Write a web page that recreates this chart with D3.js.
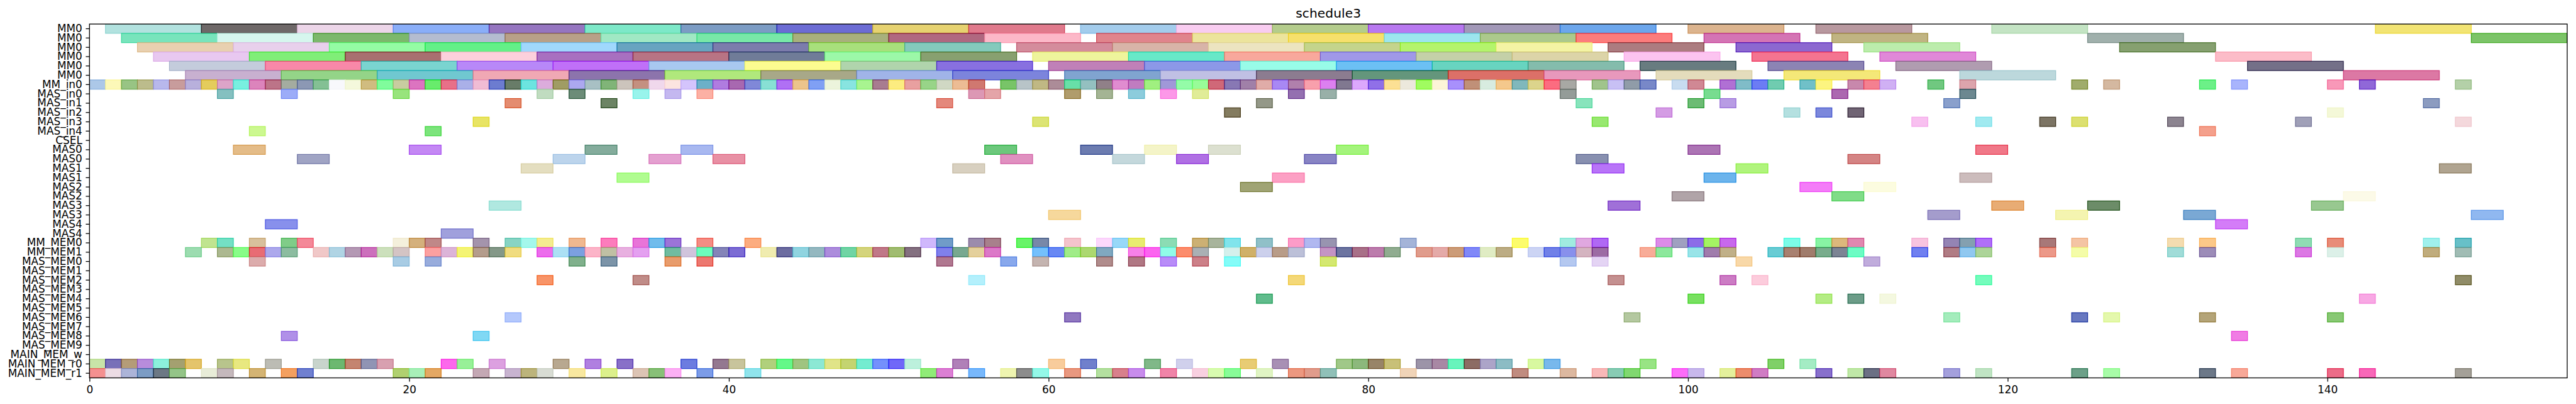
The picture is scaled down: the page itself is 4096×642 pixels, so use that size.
<!DOCTYPE html>
<html><head><meta charset="utf-8">
<script src="https://cdn.jsdelivr.net/npm/d3@7"></script>
<style>html,body{margin:0;padding:0;background:#fff;overflow:hidden}</style>
</head><body>
<svg id="chart" width="4096" height="642"></svg>
<script>
// ---------------- DATA ----------------
const title = "schedule3";
const categories = ["MM0","MM0","MM0","MM0","MM0","MM0","MM_in0",
  "MAS_in0","MAS_in1","MAS_in2","MAS_in3","MAS_in4","CSEL",
  "MAS0","MAS0","MAS1","MAS1","MAS2","MAS2","MAS3","MAS3","MAS4","MAS4",
  "MM_MEM0","MM_MEM1",
  "MAS_MEM0","MAS_MEM1","MAS_MEM2","MAS_MEM3","MAS_MEM4","MAS_MEM5","MAS_MEM6","MAS_MEM7","MAS_MEM8","MAS_MEM9",
  "MAIN_MEM_w","MAIN_MEM_r0","MAIN_MEM_r1"];
const xTicks = [0,20,40,60,80,100,120,140];
const xMax = 155;
const durations = {mm0:6, mmIn:1, masIn:1, csel:1, mas:2, mmMem:1, masMem:1, mainMem:1};

const mm0Starts = [
 [1,7,13,19,25,31,37,43,49,55,62,68,74,80,86,92,100,108,119,143],
 [2,8,14,20,26,32,38,44,50,56,63,69,75,81,87,93,101,109,125,149],
 [3,9,15,21,27,33,39,45,51,58,64,70,76,82,88,95,103,111,127],
 [4,10,16,22,28,34,40,46,52,59,65,71,77,83,89,96,104,112,133],
 [5,11,17,23,29,35,41,47,53,60,66,72,78,84,90,97,105,113,135],
 [6,12,18,24,30,36,42,48,54,61,67,73,79,85,91,98,106,117,141]
];
const mm0Colors = [
 ["#b2e2df","#6e6868","#ecd5e8","#8aaef8","#9575c0","#7de8c8","#7c9cc4","#6c6cd4","#e6d270","#e07a8c","#a3ccec","#f8ccf0","#b4cc8c","#b878f0","#a298b8","#6ca6ec","#dcb48e","#b8989f","#c4e4c4","#f2e474"],
 ["#78e4bc","#d6f6ee","#7cb86c","#b4bcd0","#b8a088","#a0e8c4","#78e8a8","#a8b07c","#b06880","#fcb8c8","#e0848c","#ece49c","#f6e06c","#9ce6ee","#acc98c","#fc7c7c","#d474b4","#c0b482","#a0b0ac","#7cc468"],
 ["#e8d0b0","#e8d0ec","#94fca4","#64f088","#a0d8fc","#68a4c0","#7c7cac","#a8e07c","#84cabc","#d48c9c","#d8b4a8","#ece4c0","#c4d48c","#b4f46c","#f4f4a4","#ac7c80","#8c68d0","#bcecac","#86a070"],
 ["#e8c8f0","#80ee78","#a87070","#fcd0dc","#a870c0","#b87484","#707c98","#9cf8a8","#88a070","#eef49c","#68e8c8","#f8a89c","#a098e8","#c4d0a8","#dcd4a8","#fcc4f0","#f47490","#e088d8","#fcbcc8"],
 ["#c4ccdc","#f888a8","#7ad4d0","#b888f8","#c070f8","#a8c8f0","#fcfc90","#b0d4ac","#8870e0","#c080b8","#8c98e8","#98fce8","#6cc0f4","#68d4c0","#84bcac","#687c80","#8c84b4","#b09cb0","#747088"],
 ["#c8b0d0","#94d488","#70c8d0","#f0a8b4","#8c74ac","#b0e87c","#a8a888","#a0b4e8","#7c84dc","#80a4d0","#c0c0e4","#8c7c90","#64967c","#dc7068","#e898bc","#e4dcbc","#f4e878","#bcd8dc","#dc78a4"]
];

const mmInStarts = [0,1,2,3,4,5,6,7,8,9,
 10,11,12,13,14,15,16,17,18,19,
 20,21,22,23,24,25,26,27,28,29,
 30,31,32,33,34,35,36,37,38,39,
 40,41,42,43,44,45,46,47,48,49,
 50,51,52,53,54,55,57,58,59,60,
 61,62,63,64,65,66,67,68,69,70,
 71,72,73,74,75,76,77,78,79,80,
 81,82,83,84,85,86,87,88,89,90,
 91,92,94,95,96,97,99,100,102,103,
 104,105,107,108,110,111,112,115,117,124,
 126,132,134,140,142,148];
const mmInColors = ["#acc8e8","#fcf8b8","#98c484","#bcbc8c","#b8b8ec","#c89c9c","#b8b0dc","#e4cc5c","#dca4c8","#78f0e0",
 "#dc84bc","#bc7488","#a4aca0","#8c98b4","#84c094","#f8f8fc","#f4f8dc","#d0bc80","#80fc9c","#c8cca0",
 "#dc74c0","#68ec6c","#e87088","#aab0e8","#f0bcd4","#6c7cd0","#687c68","#6ce4e0","#dcacdc","#a09c64",
 "#aca8f0","#a8c0c4","#80b478","#ccc4bc","#c49080","#f0d8ec","#fce4e0","#d4c4fc","#6cb0c8","#b07ce0",
 "#a868b0","#8088d8","#88e0d4","#b070f4","#ecc48c","#80a0f4","#ecf4dc","#88e4e0","#a8f490","#a87c90",
 "#fcec80","#e8a0a0","#98d488","#d0d8c4","#ecbc94","#d07870","#78c468","#b8c4c8","#c0b884","#ac8c98",
 "#68e0a8","#94c0c0","#908088","#e08cd0","#c07cc0","#a0f080","#a098d8","#94fca8","#98fc98","#d06878",
 "#8878b4","#a080a8","#e0aca8","#a888f4","#b080ac","#f8a0ac","#dc80f0","#807890","#dca8fc","#9070e8",
 "#fce094","#ece8dc","#a0fc60","#fcf4d8","#a890fc","#c09078","#d8ece0","#f4c88c","#80b8bc","#dcd48c",
 "#fc6c80","#a8a8a4","#a0c48c","#c8c0f4","#909ca8","#7888c8","#c8dcf0","#d08894","#b070d4","#80bcc8",
 "#6c7cf4","#70ccb0","#70c0c8","#fcf480","#c888ac","#f48090","#d0b0f4","#70c880","#dca4ac","#a0ac6c",
 "#d4b8a0","#6cf088","#a8b4fc","#f898b8","#9068d8","#b4d0a8"];

const masInStarts = [
 [8,12,19,28,30,34,36,38,55,56,61,63,65,67,69,75,77,92,101,109,117],
 [26,32,53,73,93,100,102,116,146],
 [71,98,106,108,110,140],
 [24,59,94,114,118,122,124,130,138,148],
 [10,21,132]
];
const masInColors = [
 ["#84c0c0","#9cacf8","#98e47c","#c0dcc0","#6c8c78","#98f4ec","#c4b8f0","#fcb0a4","#dc98b4","#e4a4a8","#b09c6c","#a4b494","#8cccdc","#fc98e8","#e0ec98","#9470b0","#98b0a8","#949c98","#78dc90","#ac68b0","#6c8890"],
 ["#e48c70","#6c8464","#e4887c","#949888","#88e4bc","#6cbc74","#b89ce4","#8aa0cc","#8c9cc0"],
 ["#847c60","#d49ce4","#b4e0e0","#7c88dc","#706474","#f4f8d8"],
 ["#e8e464","#dce474","#98e870","#f8c0f0","#a0eaf0","#7c7464","#dce070","#8c8490","#a0a0b8","#f4d8dc"],
 ["#ccf890","#7ce47c","#f4a08c"]
];

const cselStarts = [];
const cselColors = [];

const masStarts = [
 [9,20,31,37,56,62,66,70,78,100,118],
 [13,29,35,39,57,64,68,76,93,110],
 [27,54,94,103,147],
 [33,74,101,117],
 [72,107,111],
 [99,109,141],
 [25,95,119,125,139],
 [60,115,123,131,149],
 [11,133],
 [22]
];
const masColors = [
 ["#e4bc88","#c488f4","#84ac9c","#a8b8f0","#6cc87c","#6c7cb0","#f4f4c8","#dce0d0","#a4f47c","#ac74b4","#f07888"],
 ["#a0a4c4","#bcd4ec","#e4a0d0","#e890a4","#e090c0","#c4d8dc","#b070e4","#8884c4","#8890b0","#d48484"],
 ["#e4dec0","#d8d0c0","#b874f8","#b0f47c","#b0a490"],
 ["#b0fc90","#fca0c4","#6cb4ec","#ccbcbc"],
 ["#a0a474","#f47cf8","#fcfce0"],
 ["#b0a4a8","#80dc88","#fcfae8"],
 ["#b0e8e0","#a070d8","#e8ac74","#6c8c68","#98c890"],
 ["#f6d89c","#a49ccc","#f4f4b0","#7aa8d4","#90b8f0"],
 ["#8890ec","#d47cf8"],
 ["#a0a0dc"]
];

const mmMemStarts = [
 [7,8,10,12,13,19,20,21,
  24,26,27,28,30,32,34,35,36,38,41,
  52,53,55,56,58,59,61,63,64,65,
  67,69,70,71,73,75,76,77,82,
  89,92,93,94,98,99,100,101,102,106,108,109,
  110,114,116,117,118,122,124,130,
  132,138,140,146,148],
 [6,8,9,10,11,12,14,15,16,17,18,19,21,
  22,23,24,25,26,28,29,30,31,32,33,34,36,37,38,39,40,42,43,
  44,45,46,47,48,49,50,51,53,54,55,56,59,60,61,62,63,65,
  66,67,68,69,71,72,73,74,75,77,78,79,80,81,83,84,85,86,87,
  88,90,91,92,93,94,97,98,100,101,102,105,106,107,108,109,
  110,114,116,117,118,122,124,130,
  132,138,140,146,148]
];
const mmMemColors = [
 ["#c0e490","#74e0c4","#d8c09c","#80cc88","#f48898","#f4f0dc","#d4b07c","#c08888",
  "#a494ac","#88d4c4","#a4f8ec","#f4ec90","#f0b890","#fc7cbc","#e874d8","#70bcec","#9c74d8","#f48c84","#fcac80",
  "#d0b8fc","#709cc8","#9c8cac","#a8808c","#68f468","#7888a8","#f4c4cc","#fcd8fc","#98d8f8","#e8ec70",
  "#8cdcb4","#ccb074","#a8b49c","#80e4ec","#90c0c8","#fc9cc8","#b0b8f0","#9894b0","#a4b4d8",
  "#fcfc6c","#a0ece0","#e0a8e0","#b068f4","#dc8ce8","#a0a0c0","#8c6ce8","#a4f464","#c868ec","#7cfce8","#88f4a4","#dcb87c",
  "#e088b0","#f8c4e0","#9484b4","#84a0b0","#b070f8","#a87878","#f4c4a4","#f4dcb0",
  "#fcc888","#90dcb4","#e88c78","#a0f0ec","#68c0c8"],
 ["#9cdcb0","#acb890","#88fc88","#e86c74","#aca8ec","#8cbca0","#f0c8c8","#b0d4e4","#b498b4","#cc70bc","#cce0bc","#d4c4c4","#fca0a0",
  "#dcb4d8","#f4f474","#b49c8c","#849888","#f0dc80","#ec6cec","#ace0f4","#7ca0e0","#fcb4c8","#c0c0a4","#e8b0e0","#e4a0f0","#70bca0","#d0c4dc","#6cfcbc","#8484b8","#7c6cd4","#f0ecb0","#6c6ca0",
  "#90d4e0","#94b8c0","#ac8cdc","#70d4a4","#d4d47c","#c07888","#a0bc70","#847080","#8080ec","#78a890","#e4d09c","#dc78c8","#74c0fc","#6888f4","#a0ec88","#acd870","#80a8c0","#f880e8",
  "#fc64f0","#90fce8","#fc8c6c","#aab0b4","#d4f0ec","#d0b068","#ccd0ec","#b89c88","#bcc0d8","#c494c4","#6c74a0","#a87088","#bc7cac","#90ac90","#e09c8c","#e4aaa8","#cc9c78","#8088f8","#e0ecc4",
  "#bcac84","#ccd4f4","#7080e8","#8890ec","#d4b4c0","#9c6ca4","#f8ac98","#8ce89c","#98e4e8","#a07cac","#c0b088","#68ccd4","#a88070","#a07c6c","#78ac8c","#7c8494",
  "#6cfcc4","#7080f0","#b07c84","#90c8f0","#acd498","#ec9888","#f4fca8","#a0dcd8",
  "#9c8cb8","#dc78e4","#dcf0e8","#c0ac7c","#a0bcb4"]
];

const masMemStarts = [
 [10,19,21,30,32,36,38,53,57,59,63,65,67,69,71,77,92,94,103,111],
 [],
 [28,34,55,75,95,102,104,118,148],
 [],
 [73,100,108,110,112,142],
 [],
 [26,61,96,116,124,126,132,140],
 [],
 [12,24,134],
 []
];
const masMemColors = [
 ["#dcacac","#a8cce4","#98acdc","#80b08c","#7c94a8","#e89c6c","#ec7870","#b07890","#88a8ec","#c4b4b0","#b08c8c","#b07884","#b88cf8","#cc8088","#84fcf8","#d4e870","#b4c8f0","#e4d4f4","#f8d8a8","#c0acdc"],
 [],
 ["#f89468","#c08c88","#b4f0fc","#f4d878","#c49090","#cc7cc4","#fcccdc","#74fcbc","#908c68"],
 [],
 ["#60bc8c","#78e060","#b4ec84","#6c9c88","#f4f8e0","#f8a8e4"],
 [],
 ["#b4c8fc","#9078c0","#b4c8a0","#a4ecbc","#6878c0","#e4f8ac","#b4a478","#88c874"],
 [],
 ["#b090e8","#80d8f4","#f07ce4"],
 []
];

const mainMemStarts = [
 [],
 [0,1,2,3,4,5,6,8,9,11,14,15,16,17,18,22,23,25,29,31,33,37,39,40,42,43,44,45,46,47,48,49,50,51,54,60,62,66,68,72,74,78,79,80,81,83,84,85,86,87,88,90,91,97,105,107],
 [0,1,2,3,4,5,7,8,10,12,13,19,20,21,24,26,27,28,30,32,34,35,36,38,41,52,53,55,57,58,59,61,63,64,65,67,69,70,71,73,75,76,77,82,89,92,94,95,96,99,100,102,103,104,108,110,111,112,116,118,124,126,132,134,140,142,148]
];
const mainMemColors = [
 [],
 ["#c8e4a8","#7870b8","#b49c78","#b88cdc","#8cf0dc","#a4a070","#e4c46c","#b8c48c","#e8e880","#bcbcb4","#c8d4cc","#6cb870","#c48470","#9094b4","#d8a0b0","#fc68ec","#98f098","#dca0e0","#b8a890","#b080e0","#8870c8","#6c7ce0","#947890","#c8c49c","#b0d07c","#64f888","#a0c480","#8ce8d4","#e0e488","#c4d470","#74ecd0","#7490fc","#7068f8","#bcf0dc","#b080b8","#f8cc9c","#7080cc","#80b888","#d0d0ec","#e8cc74","#a890b4","#a0c888","#8cb87c","#988468","#c8c078","#9c94a8","#a888a4","#68f4bc","#8c6c64","#aca4c8","#8cbcc4","#d8f8a0","#78b8ec","#98e484","#80d068","#a4ecc4"],
 ["#f49090","#ecdce4","#acb4d8","#7c9cc4","#6c7884","#94c488","#e8ecd8","#c4b8bc","#d4b474","#f4a060","#7080d0","#b0d070","#a8f0b8","#e4a864","#c4a8b4","#c8b4d0","#bcb47c","#d8dcd4","#f8e8a0","#dcf08c","#dcc4b4","#88c078","#fcb0f4","#7c9ce8","#90e4ec","#90ec78","#dc80d4","#78b8fc","#eef4b0","#8c8c8c","#94f8e8","#e89880","#b4e0a0","#d8808c","#c88cec","#f084a8","#f8d0e0","#d8fcb0","#88fc98","#e0f4c4","#ec9880","#e09c8c","#90c0b8","#f0d4b8","#c08c80","#dcb8a0","#f8b8b8","#88ccb4","#80d870","#fc6cf8","#c8b8ec","#e4f09c","#ec8c6c","#d07cc4","#8870cc","#c0e8a8","#6c7084","#e088a0","#a4a0dc","#c0e4c4","#6ca088","#a8fca8","#6c7888","#f8a898","#ec6c88","#f868b8","#a4a098"]
];

// ---------------- BUILD LANES ----------------
const lanes = [
  ...mm0Starts.map((s,i)=>({s, c:mm0Colors[i], d:durations.mm0})),
  {s:mmInStarts, c:mmInColors, d:durations.mmIn},
  ...masInStarts.map((s,i)=>({s, c:masInColors[i], d:durations.masIn})),
  {s:cselStarts, c:cselColors, d:durations.csel},
  ...masStarts.map((s,i)=>({s, c:masColors[i], d:durations.mas})),
  ...mmMemStarts.map((s,i)=>({s, c:mmMemColors[i], d:durations.mmMem})),
  ...masMemStarts.map((s,i)=>({s, c:masMemColors[i], d:durations.masMem})),
  ...mainMemStarts.map((s,i)=>({s, c:mainMemColors[i], d:durations.mainMem}))
];
const tasks = [];
lanes.forEach((lane, row) => {
  lane.s.forEach((st, k) => tasks.push({row, start: st, end: st + lane.d, color: lane.c[k] || "#bbbbbb"}));
});

// ---------------- DRAW ----------------
const W = 4096, H = 642;
const plot = {left: 142.3, right: 4082, top: 38.2, bottom: 600.5};
const svg = d3.select("#chart");
const font = "DejaVu Sans, Liberation Sans, sans-serif";

const x = d3.scaleLinear().domain([0, xMax]).range([plot.left, plot.right]);
const y = d3.scaleBand().domain(d3.range(categories.length)).range([plot.top, plot.bottom]).padding(0);

svg.append("rect").attr("width", W).attr("height", H).attr("fill", "#fff");

svg.append("defs").append("clipPath").attr("id", "clip")
  .append("rect").attr("x", plot.left).attr("y", plot.top)
  .attr("width", plot.right - plot.left).attr("height", plot.bottom - plot.top);

const alpha = 0.6;
function edgeColor(c) {
  const r = d3.rgb(c);
  const f = v => Math.max(0, Math.min(255, (v - 255 * (1 - alpha)) / alpha));
  return d3.rgb(f(r.r), f(r.g), f(r.b)).formatHex();
}

svg.append("g").attr("clip-path", "url(#clip)")
  .selectAll("rect").data(tasks).join("rect")
  .attr("x", d => x(d.start))
  .attr("y", d => y(d.row))
  .attr("width", d => x(d.end) - x(d.start))
  .attr("height", y.bandwidth())
  .attr("fill", d => d.color)
  .attr("stroke", d => edgeColor(d.color))
  .attr("stroke-opacity", 0.85)
  .attr("stroke-width", 1.2);

// Y axis
const yAxis = d3.axisLeft(y).tickFormat(i => categories[i]).tickSize(5.9).tickPadding(5.6);
const gy = svg.append("g").attr("transform", `translate(${plot.left},0)`).call(yAxis);
gy.select(".domain").remove();
gy.selectAll("line").attr("stroke", "#000").attr("stroke-width", 1.3);
gy.selectAll("text").attr("font-family", font).attr("font-size", 16.9).attr("fill", "#000");

// X axis
const xAxis = d3.axisBottom(x).tickValues(xTicks).tickFormat(d3.format("d")).tickSize(5.9).tickPadding(6.5);
const gx = svg.append("g").attr("transform", `translate(0,${plot.bottom})`).call(xAxis);
gx.select(".domain").remove();
gx.selectAll("line").attr("stroke", "#000").attr("stroke-width", 1.3);
gx.selectAll("text").attr("font-family", font).attr("font-size", 16.9).attr("fill", "#000");

// Frame (spines)
svg.append("rect")
  .attr("x", plot.left).attr("y", plot.top)
  .attr("width", plot.right - plot.left).attr("height", plot.bottom - plot.top)
  .attr("fill", "none").attr("stroke", "#000").attr("stroke-width", 1.3);

// Title
svg.append("text")
  .attr("x", (plot.left + plot.right) / 2).attr("y", 28)
  .attr("text-anchor", "middle")
  .attr("font-family", font).attr("font-size", 20.3).attr("fill", "#000")
  .text(title);
</script>
</body></html>
